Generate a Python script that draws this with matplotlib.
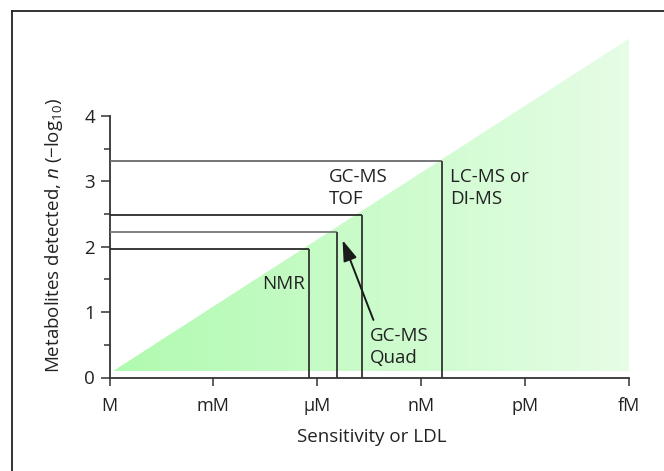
import numpy as np
import matplotlib
matplotlib.use("Agg")
import matplotlib.pyplot as plt
from matplotlib.patches import Polygon
from matplotlib.lines import Line2D

plt.rcParams['font.family'] = ['Open Sans', 'DejaVu Sans']
plt.rcParams['mathtext.fontset'] = 'custom'
plt.rcParams['mathtext.rm'] = 'Open Sans'
plt.rcParams['mathtext.it'] = 'Open Sans:italic'

# x axis: -log10 of molar concentration
x_ticks = [0, 3, 6, 9, 12, 15]
x_labels = ['M', 'mM', 'μM', 'nM', 'pM', 'fM']

# detection limit of each technique and metabolites detected (log10)
techniques = ['NMR', 'GC-MS Quad', 'GC-MS TOF', 'LC-MS or DI-MS']
ldl = [5.76, 6.56, 7.30, 9.61]
detected = [1.97, 2.23, 2.49, 3.31]
h_colors = ['#2a2a2a', '#777777', '#2a2a2a', '#6a6a6a']

# shaded triangle corners
tri_x = [0.11, 15.03]
tri_y = [0.1, 5.19]

fig = plt.figure(figsize=(6.64, 4.71), dpi=100)
ax = fig.add_axes([109.5 / 664, 1 - 377.5 / 471, 519.5 / 664, 343.3 / 471])
ax.set_xlim(0, 15)
ax.set_ylim(0, 343.3 / 65.4)

# gradient triangle
tri = Polygon([(tri_x[0], tri_y[0]), (tri_x[1], tri_y[1]), (tri_x[1], tri_y[0])],
              closed=True, facecolor='none', edgecolor='none')
ax.add_patch(tri)
c0 = np.array([176, 250, 176]) / 255
c1 = np.array([230, 253, 230]) / 255
t = np.linspace(0, 1, 256)
grad = (c0[None, :] * (1 - t[:, None]) + c1[None, :] * t[:, None])[None, :, :]
im = ax.imshow(grad, extent=[tri_x[0], tri_x[1], tri_y[0], tri_y[1]],
               aspect='auto', origin='lower', zorder=1, interpolation='bilinear')
im.set_clip_path(tri)

# detection boxes
for x, y, hc in zip(ldl, detected, h_colors):
    ax.plot([0, x], [y, y], color=hc, lw=1.3, zorder=3, solid_capstyle='butt')
    ax.plot([x, x], [0, y], color='#333333', lw=1.3, zorder=3, solid_capstyle='butt')

fs = 13.5
tc = '#222222'
ax.text(5.645, 1.43, 'NMR', ha='right', va='center', fontsize=fs, color=tc)
ax.text(6.34, 3.21, 'GC-MS\nTOF', ha='left', va='top', fontsize=fs, color=tc,
        linespacing=1.3)
ax.text(9.83, 3.21, 'LC-MS or\nDI-MS', ha='left', va='top', fontsize=fs, color=tc,
        linespacing=1.3)
ax.text(7.52, 0.77, 'GC-MS\nQuad', ha='left', va='top', fontsize=fs, color=tc,
        linespacing=1.3)
ax.annotate('', xy=(6.73, 2.10), xytext=(7.62, 0.88),
            arrowprops=dict(arrowstyle='-|>,head_length=0.9,head_width=0.3',
                            color='#1a1a1a', lw=1.4, mutation_scale=14,
                            shrinkA=0, shrinkB=0))

# axes styling
for s in ['top', 'right']:
    ax.spines[s].set_visible(False)
ax.spines['left'].set_bounds(0, 4)
for s in ['left', 'bottom']:
    ax.spines[s].set_color('#333333')
    ax.spines[s].set_linewidth(1.3)

ax.set_xticks(x_ticks)
ax.set_xticklabels(x_labels)
ax.set_yticks([0, 1, 2, 3, 4])
ax.set_yticks([0.5, 1.5, 2.5, 3.5], minor=True)
ax.tick_params(axis='both', which='major', length=6.5, width=1.1, color='#333333',
               labelsize=13.5, labelcolor=tc, pad=4)
ax.tick_params(axis='y', which='minor', length=4.3, width=1.1, color='#333333')
ax.tick_params(axis='x', which='major', length=6, pad=8, labelsize=13)

ax.set_xlabel('Sensitivity or LDL', fontsize=13.5, color=tc)
ax.set_ylabel('Metabolites detected, $n$ (−log$_{10}$)', fontsize=13.5, color=tc)
ax.xaxis.set_label_coords(0.505, -0.148)
ax.yaxis.set_label_coords(-0.085, 0.415)

# outer frame (left and top edges)
fig.add_artist(Line2D([11.5 / 664, 11.5 / 664], [0, 1 - 11 / 471],
                      transform=fig.transFigure, color='#222222', lw=1.3))
fig.add_artist(Line2D([11.5 / 664, 1], [1 - 11 / 471, 1 - 11 / 471],
                      transform=fig.transFigure, color='#222222', lw=1.3))

fig.savefig('out.png', dpi=100)
